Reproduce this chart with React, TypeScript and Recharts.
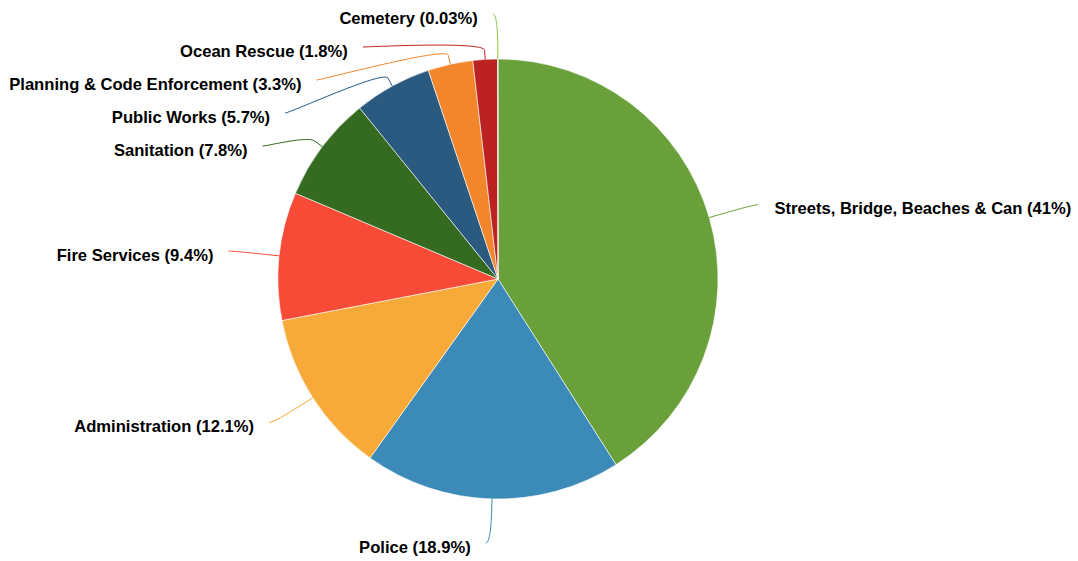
import React from "react";
import { PieChart, Pie, Cell } from "recharts";

const categories = [
  "Streets, Bridge, Beaches & Can",
  "Police",
  "Administration",
  "Fire Services",
  "Sanitation",
  "Public Works",
  "Planning & Code Enforcement",
  "Ocean Rescue",
  "Cemetery",
];
const values = [41, 18.9, 12.1, 9.4, 7.8, 5.7, 3.3, 1.8, 0.03];
const percentLabels = ["41%", "18.9%", "12.1%", "9.4%", "7.8%", "5.7%", "3.3%", "1.8%", "0.03%"];
const colors = [
  "#6aa03a",
  "#3b8ab8",
  "#f7aa37",
  "#f74a37",
  "#356a21",
  "#2b5a80",
  "#f1862d",
  "#bd2222",
  "#8cc63f",
];

const data = categories.map((name, i) => ({ name, value: values[i], pct: percentLabels[i] }));

const WIDTH = 1078;
const HEIGHT = 561;
const RADIUS = 220;
const LABEL_DISTANCE = 46;
const LABEL_PAD = 5;
const BOX = 33;
const Y_MIN = 14;
const Y_MAX = 543;
const START_ANGLE = 90;
const END_ANGLE = -270;

type Layout = {
  left: boolean;
  lx: number;
  ly: number;
  tx: number;
  bx: number;
  by: number;
  sx: number;
  sy: number;
};

function distribute(targets: number[], size: number, min: number, max: number): number[] {
  type G = { idx: number[]; start: number };
  const order = targets.map((t, i) => i).sort((a, b) => targets[a] - targets[b]);
  const place = (g: G) => {
    const n = g.idx.length;
    const mean = g.idx.reduce((s, i) => s + targets[i], 0) / n;
    let start = mean - ((n - 1) * size) / 2;
    if (start < min) start = min;
    if (start + (n - 1) * size > max) start = max - (n - 1) * size;
    g.start = start;
  };
  let groups: G[] = order.map((i) => ({ idx: [i], start: 0 }));
  groups.forEach(place);
  let changed = true;
  while (changed) {
    changed = false;
    for (let k = 0; k < groups.length - 1; k++) {
      const a = groups[k];
      const b = groups[k + 1];
      if (a.start + a.idx.length * size > b.start + 0.001) {
        const m: G = { idx: a.idx.concat(b.idx), start: 0 };
        place(m);
        groups.splice(k, 2, m);
        changed = true;
        break;
      }
    }
  }
  const out: number[] = new Array(targets.length).fill(0);
  groups.forEach((g) => g.idx.forEach((i, j) => (out[i] = g.start + j * size)));
  return out;
}

function computeLayout(cx: number, cy: number, r: number): Layout[] {
  const total = values.reduce((s, v) => s + v, 0);
  const span = END_ANGLE - START_ANGLE;
  let cum = 0;
  const rd = r + LABEL_DISTANCE;
  const base = values.map((v) => {
    const mid = START_ANGLE + (span * (cum + v / 2)) / total;
    cum += v;
    const rad = (mid * Math.PI) / 180;
    const cos = Math.cos(rad);
    const sin = Math.sin(rad);
    return {
      cos,
      sin,
      left: cos < 0,
      natY: cy - rd * sin,
      natX: cx + rd * cos,
    };
  });
  const result: Layout[] = new Array(values.length);
  [true, false].forEach((side) => {
    const ids = base.map((b, i) => i).filter((i) => base[i].left === side);
    const pos = distribute(ids.map((i) => base[i].natY), BOX, Y_MIN, Y_MAX);
    ids.forEach((i, k) => {
      const b = base[i];
      const y = pos[k];
      const useY = y <= Y_MIN + 2 || y >= Y_MAX - 2 ? b.natY : y;
      const dy = Math.max(-rd, Math.min(rd, useY - cy));
      const dx = Math.sqrt(rd * rd - dy * dy) + LABEL_PAD;
      const lx = side ? cx - dx : cx + dx;
      const bo = LABEL_DISTANCE / 5;
      result[i] = {
        left: side,
        lx,
        ly: y,
        tx: side ? lx - 15 : lx + 16,
        bx: cx + (r + bo) * b.cos,
        by: cy - (r + bo) * b.sin,
        sx: cx + r * b.cos,
        sy: cy - r * b.sin,
      };
    });
  });
  return result;
}

const renderLabel = (props: any) => {
  const { cx, cy, outerRadius, index } = props;
  const layout = computeLayout(cx, cy, outerRadius)[index];
  const d = data[index];
  const c1x = layout.lx + (layout.left ? 5 : -5);
  const c2x = 2 * layout.bx - layout.sx;
  const c2y = 2 * layout.by - layout.sy;
  const path = `M ${layout.lx} ${layout.ly} C ${c1x} ${layout.ly} ${c2x} ${c2y} ${layout.bx} ${layout.by} L ${layout.sx} ${layout.sy}`;
  return (
    <g key={`lbl-${index}`}>
      <path d={path} fill="none" stroke={colors[index]} strokeWidth={1} />
      <text
        x={layout.tx}
        y={layout.ly + 4}
        textAnchor={layout.left ? "end" : "start"}
        dominantBaseline="central"
        fontFamily="'Liberation Sans', Arial, Helvetica, sans-serif"
        fontWeight="bold"
        fontSize={16.6}
        fill="#000000"
      >
        {`${d.name} (${d.pct})`}
      </text>
    </g>
  );
};

export default function App() {
  return (
    <div style={{ position: "absolute", left: 0, top: 0, width: WIDTH, height: HEIGHT, background: "#ffffff" }}>
      <PieChart width={WIDTH} height={HEIGHT} margin={{ top: 0, right: 0, bottom: 0, left: 0 }}>
        <Pie
          data={data}
          dataKey="value"
          nameKey="name"
          cx={498}
          cy={279}
          outerRadius={RADIUS}
          startAngle={START_ANGLE}
          endAngle={END_ANGLE}
          stroke="#ffffff"
          strokeWidth={0.6}
          label={renderLabel}
          labelLine={false}
          isAnimationActive={false}
        >
          {data.map((d, i) => (
            <Cell key={d.name} fill={colors[i]} />
          ))}
        </Pie>
      </PieChart>
    </div>
  );
}
